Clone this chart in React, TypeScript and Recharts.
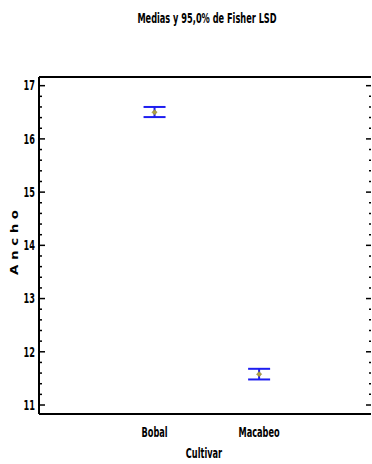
import React from "react";
import {
  ComposedChart,
  Scatter,
  ErrorBar,
  XAxis,
  YAxis,
  ReferenceLine,
} from "recharts";

const cultivars = ["Bobal", "Macabeo"];
const means = [16.5, 11.58];
const lowerLimits = [16.41, 11.48];
const upperLimits = [16.6, 11.68];

const majorTicks = [11, 12, 13, 14, 15, 16, 17];

const Y_MIN = 10.831;
const Y_MAX = 17.163;

const FONT = "'Liberation Sans Narrow', 'DejaVu Sans Condensed', 'Liberation Sans', sans-serif";
const SX = 0.83;
const SY = 1.35;

// major ticks plus four minor ticks between each pair
const allTicks: number[] = [];
majorTicks.forEach((t, i) => {
  allTicks.push(t);
  if (i < majorTicks.length - 1) {
    for (let k = 1; k < 5; k++) allTicks.push(+(t + k * 0.2).toFixed(1));
  }
});
const isMajor = (v: number) => Math.abs(v - Math.round(v)) < 1e-6;

const data = cultivars.map((c, i) => ({
  x: i + 1,
  name: c,
  mean: means[i],
  err: [+(means[i] - lowerLimits[i]).toFixed(3), +(upperLimits[i] - means[i]).toFixed(3)],
}));

function TallText({ x, y, anchor, children }: { x: number; y: number; anchor: string; children: React.ReactNode }) {
  return (
    <g transform={`translate(${x},${y}) scale(${SX},${SY})`}>
      <text
        x={0}
        y={0}
        textAnchor={anchor as any}
        dominantBaseline="central"
        fontFamily={FONT}
        fontWeight="bold"
        fontSize={11}
        fill="#000"
      >
        {children}
      </text>
    </g>
  );
}

function LeftTick(props: any) {
  const { x, y, payload } = props;
  const v = payload.value;
  const major = isMajor(v);
  return (
    <g>
      <line x1={x} y1={y} x2={x + (major ? 6 : 3)} y2={y} stroke="#000" strokeWidth={1.5} />
      {major && (
        <TallText x={x - 4} y={y} anchor="end">
          {v}
        </TallText>
      )}
    </g>
  );
}

// short inward ticks along the right edge of the plot
function rightTickShape(major: boolean) {
  return (props: any) => {
    const { x2, y2 } = props;
    if (x2 == null || y2 == null) return null;
    return <line x1={x2} y1={y2} x2={x2 - (major ? 5 : 2)} y2={y2} stroke="#000" strokeWidth={1.5} />;
  };
}

function BottomTick(props: any) {
  const { x, y, payload } = props;
  return (
    <TallText x={x} y={y + 18.5} anchor="middle">
      {cultivars[payload.value - 1]}
    </TallText>
  );
}

function MeanMarker(props: any) {
  const { cx, cy } = props;
  const r = 2.6;
  return (
    <path
      d={`M${cx},${cy - r} L${cx + r},${cy} L${cx},${cy + r} L${cx - r},${cy} Z`}
      fill="#b0a040"
      stroke="#8a7d2a"
      strokeWidth={0.5}
    />
  );
}

export default function App() {
  return (
    <div
      style={{
        position: "absolute",
        left: 0,
        top: 0,
        width: 372,
        height: 464,
        overflow: "hidden",
        background: "#fff",
      }}
    >
      <div
        style={{
          position: "absolute",
          left: 107,
          width: 200,
          top: 12,
          textAlign: "center",
          fontFamily: FONT,
          fontWeight: "bold",
          fontSize: 11,
          transform: `scale(${SX},${SY})`,
          whiteSpace: "nowrap",
        }}
      >
        Medias y 95,0% de Fisher LSD
      </div>
      <ComposedChart
        width={372}
        height={464}
        data={data}
        margin={{ top: 77, right: 1, bottom: 0, left: 0 }}
      >
        <XAxis
          dataKey="x"
          type="number"
          domain={[-0.105, 3.07]}
          ticks={[1, 2]}
          height={50}
          tickSize={0}
          tickMargin={0}
          tickLine={false}
          tick={BottomTick}
          axisLine={{ stroke: "#000", strokeWidth: 2 }}
          allowDataOverflow
          label={(p: any) => {
            const vb = p.viewBox;
            return (
              <TallText x={vb.x + vb.width / 2 - 1} y={453} anchor="middle">
                Cultivar
              </TallText>
            );
          }}
        />
        <YAxis
          type="number"
          domain={[Y_MIN, Y_MAX]}
          ticks={allTicks}
          interval={0}
          width={39}
          tickSize={0}
          tickMargin={0}
          tickLine={false}
          tick={LeftTick}
          axisLine={{ stroke: "#000", strokeWidth: 2 }}
          allowDataOverflow
          label={(p: any) => {
            const vb = p.viewBox;
            const cx = vb.x + 14;
            const cy = vb.y + vb.height / 2 - 3;
            return (
              <g transform={`translate(${cx},${cy}) rotate(-90) scale(${SY},${SX * 1.1})`}>
                <text
                  x={0}
                  y={0}
                  textAnchor="middle"
                  dominantBaseline="central"
                  fontFamily={FONT}
                  fontWeight="bold"
                  fontSize={11}
                >
                  A n c h o
                </text>
              </g>
            );
          }}
        />
        <ReferenceLine y={Y_MAX} stroke="#000" strokeWidth={2} ifOverflow="visible" />
        {allTicks.map((t) => (
          <ReferenceLine key={t} y={t} shape={rightTickShape(isMajor(t))} />
        ))}
        <Scatter dataKey="mean" shape={MeanMarker} isAnimationActive={false}>
          <ErrorBar
            dataKey="err"
            direction="y"
            width={11}
            stroke="#1e1ef0"
            strokeWidth={2}
            isAnimationActive={false}
          />
        </Scatter>
      </ComposedChart>
    </div>
  );
}
